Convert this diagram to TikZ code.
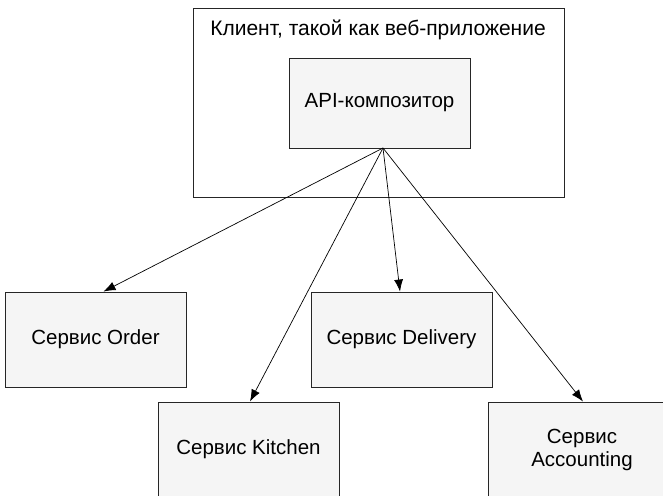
\documentclass[tikz,border=0pt]{standalone}
\usepackage{fontspec}
\setmainfont{Liberation Sans}
\usetikzlibrary{positioning}
\usetikzlibrary{arrows.meta}
\tikzset{svc/.style = {draw=black!85, fill=black!4, line width=0.9pt,
                       minimum width=181, minimum height=95,
                       align=center, font=\fontsize{20.5}{23}\selectfont}}
\tikzset{call/.style = {line width=0.7pt, -{Latex[length=12pt,width=9pt]}}}
\tikzset{every picture/.style={x=1pt, y=-1pt}}

\begin{document}
\begin{tikzpicture}
      \useasboundingbox (0,0) rectangle (663,495);
      \node[draw=black!85, line width=0.9pt, minimum width=371,
            minimum height=189] (client) at (378.5,102.5) {};
      \node[font=\fontsize{21}{24}\selectfont] (title) at (378,30)
            {Клиент, такой как веб-приложение};
      \node[svc, minimum height=90] (api) at (379.5,103) {API-композитор};
      \coordinate (hub) at (383,148);
      \node[svc] (order) at (95.5,339.5) {Сервис Order};
      \node[svc] (delivery) at (401.5,339.5) {Сервис Delivery};
      \node[svc] (kitchen) at (248.5,449.5) {Сервис Kitchen};
      \node[svc, minimum width=188] (accounting) at (582,449.5) {Сервис\\Accounting};
      \draw[call] (hub) -- ([xshift=8]order.north);
      \draw[call] (hub) -- ([xshift=1.5]kitchen.north);
      \draw[call] (hub) -- ([xshift=-1.5]delivery.north);
      \draw[call] (hub) -- ([xshift=1]accounting.north);
\end{tikzpicture}
\end{document}
